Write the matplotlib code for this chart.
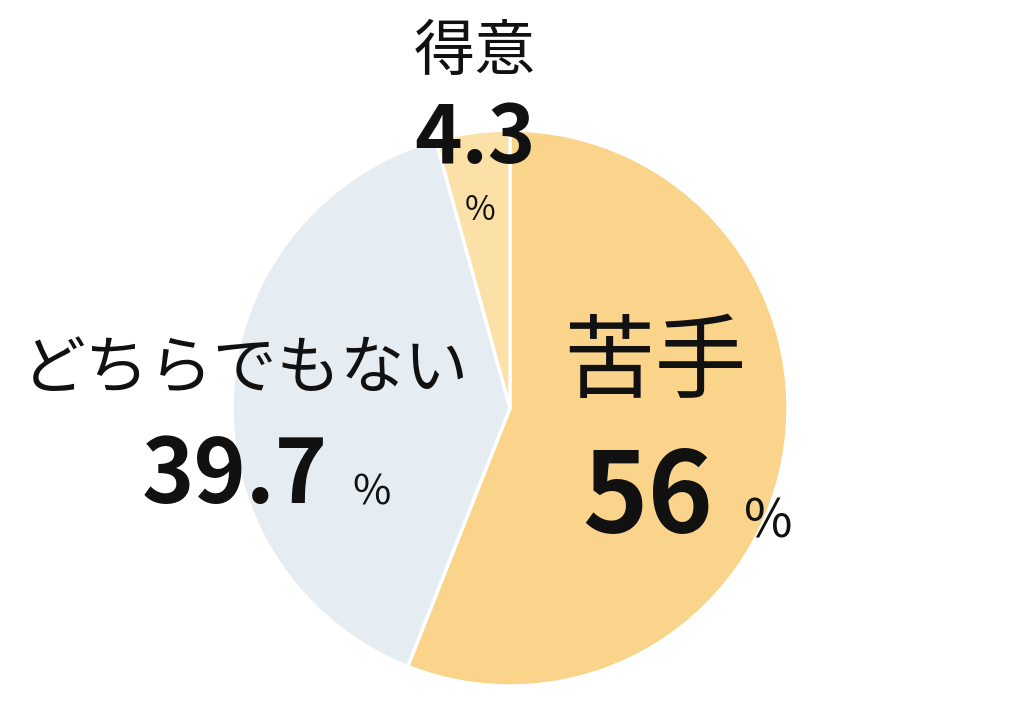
import matplotlib
matplotlib.use("Agg")
import matplotlib.pyplot as plt

labels = ["苦手", "どちらでもない", "得意"]
values = [56, 39.7, 4.3]
value_text = ["56", "39.7", "4.3"]
colors = ["#F9D48A", "#E6EDF2", "#FBE0A8"]

plt.rcParams['font.family'] = ['Noto Sans CJK JP', 'DejaVu Sans']
fig = plt.figure(figsize=(10.24, 7.05), dpi=100)
ax = fig.add_axes([0, 0, 1, 1])
ax.pie(values, colors=colors, startangle=90, counterclock=False, center=(510, 297), radius=278,
       wedgeprops=dict(edgecolor='white', linewidth=2.5), frame=True)
ax.set_xlim(0, 1024); ax.set_ylim(0, 705); ax.set_aspect('equal'); ax.axis('off')

c = '#111111'
# 苦手
ax.text(655, 340, labels[0], fontsize=66, ha='center', va='center', color=c)
ax.text(648, 205, value_text[0], fontsize=80, fontweight='bold', ha='center', va='center', color=c)
ax.text(768, 183, "%", fontsize=38, ha='center', va='center', color=c)
# どちらでもない
ax.text(245, 335, labels[1], fontsize=46, ha='center', va='center', color=c)
ax.text(235, 228, value_text[1], fontsize=64, fontweight='bold', ha='center', va='center', color=c)
ax.text(372, 212, "%", fontsize=30, ha='center', va='center', color=c)
# 得意
ax.text(475, 652, labels[2], fontsize=44, ha='center', va='center', color=c)
ax.text(475, 565, value_text[2], fontsize=58, fontweight='bold', ha='center', va='center', color=c)
ax.text(480, 495, "%", fontsize=24, ha='center', va='center', color=c)

fig.savefig("out.png", dpi=100, facecolor='white')
